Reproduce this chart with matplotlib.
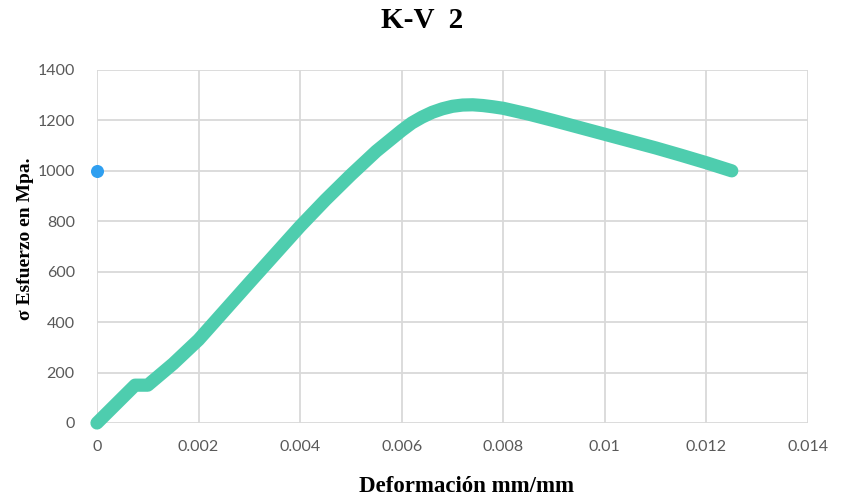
import matplotlib
matplotlib.use("Agg")
import matplotlib.pyplot as plt

# Stress-strain curve for specimen K-V 2
strain = [0.0, 0.0004, 0.00075, 0.001, 0.0015, 0.002, 0.0025, 0.003, 0.0035,
          0.004, 0.0045, 0.005, 0.0055, 0.006, 0.0062, 0.0064, 0.0066, 0.0068,
          0.007, 0.0072, 0.0074, 0.0076, 0.0078, 0.008, 0.0085, 0.009, 0.0095,
          0.010, 0.0105, 0.011, 0.0115, 0.012, 0.0125]
stress = [0, 80, 150, 150, 235, 330, 443, 556, 668,
          780, 885, 984, 1078, 1160, 1190, 1213, 1232, 1246,
          1256, 1261, 1262, 1259, 1254, 1248, 1225, 1199, 1172,
          1145, 1118, 1091, 1062, 1032, 1000]

# Single highlighted reference point
ref_strain = [0.0]
ref_stress = [1000]

x_ticks = [0, 0.002, 0.004, 0.006, 0.008, 0.010, 0.012, 0.014]
x_tick_labels = ["0", "0.002", "0.004", "0.006", "0.008", "0.01", "0.012", "0.014"]
y_ticks = [0, 200, 400, 600, 800, 1000, 1200, 1400]

fig = plt.figure(figsize=(8.47, 5.01), dpi=100)
ax = fig.add_axes([0.1145, 0.1557, 0.8394, 0.7046])

ax.plot(strain, stress, color="#4ecdae", linewidth=9.5, solid_capstyle="round",
        solid_joinstyle="round", zorder=3, clip_on=False)
ax.scatter(ref_strain, ref_stress, s=70, color="#2f9ff0", zorder=4, clip_on=False)

ax.set_xlim(0, 0.014)
ax.set_ylim(0, 1400)
ax.set_xticks(x_ticks)
ax.set_xticklabels(x_tick_labels)
ax.set_yticks(y_ticks)

ax.grid(True, color="#d9d9d9", linewidth=1.3)
ax.set_axisbelow(True)
for s in ax.spines.values():
    s.set_visible(False)
ax.tick_params(length=0, labelsize=11.5, labelcolor="#595959")
ax.tick_params(axis="y", pad=16)
ax.tick_params(axis="x", pad=12)
for lbl in ax.get_xticklabels() + ax.get_yticklabels():
    lbl.set_family("Lato")

serif = "Liberation Serif"
fig.text(0.498, 0.96, "K-V  2", ha="center", va="center", family=serif,
         fontweight="bold", fontsize=21)
fig.text(0.551, 0.028, "Deformación mm/mm", ha="center", va="center", family=serif,
         fontweight="bold", fontsize=16.5)
fig.text(0.03, 0.523, "σ Esfuerzo en Mpa.", ha="center", va="center", rotation=90,
         family=serif, fontweight="bold", fontsize=14)

fig.savefig("out.png", dpi=100)
